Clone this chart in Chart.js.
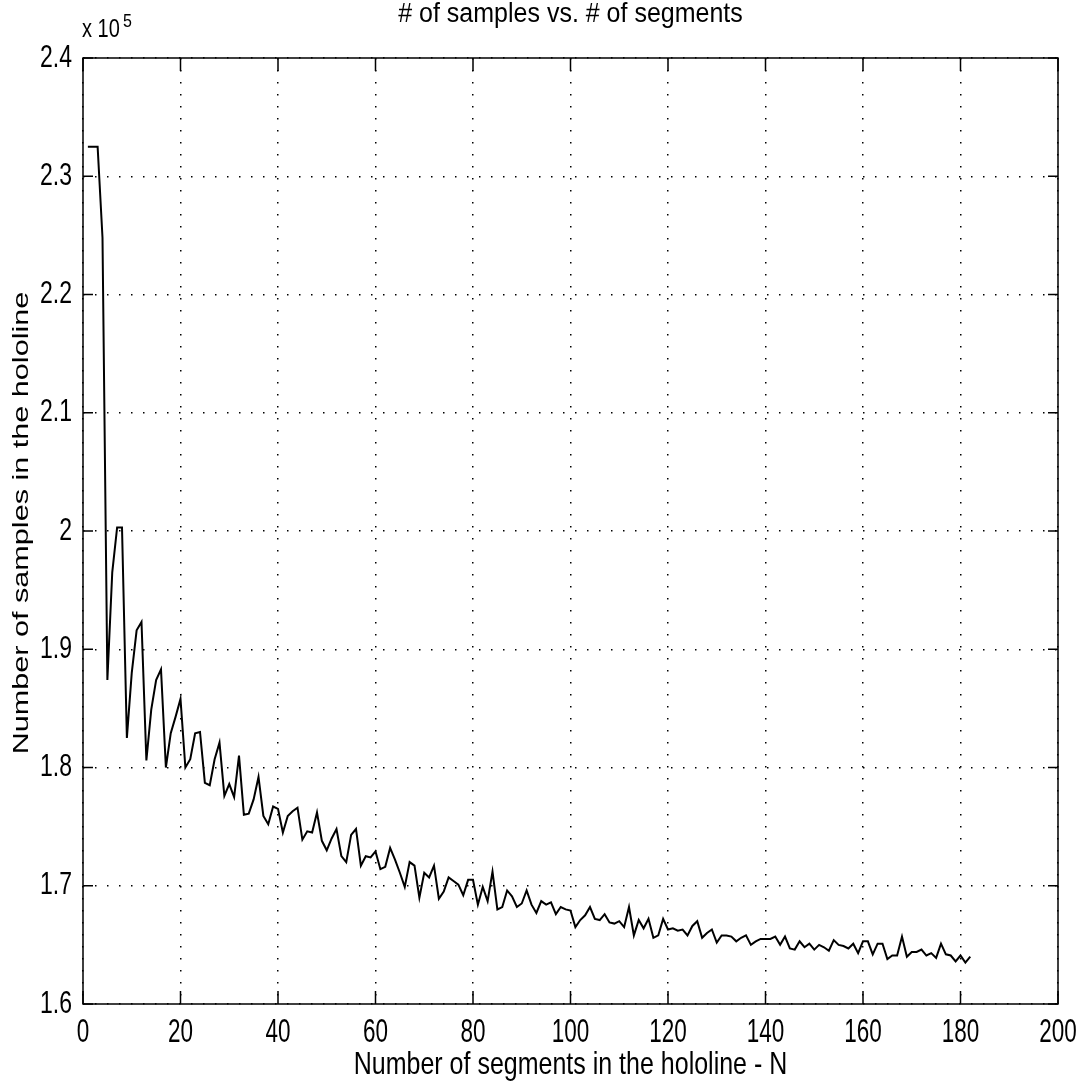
<!DOCTYPE html>
<html>
<head>
<meta charset="utf-8">
<script src="https://cdn.jsdelivr.net/npm/chart.js@4.4.1/dist/chart.umd.min.js"></script>
<style>
  html, body { margin: 0; padding: 0; background: #fff; }
  #wrap { width: 1087px; height: 1084px; position: relative; }
</style>
</head>
<body>
<div id="wrap"><canvas id="chart"></canvas></div>
<script>
// number of segments N (x axis)
const segments = [
  1, 2, 3, 4, 5, 6, 7, 8, 9, 10, 11, 12, 13, 14, 15, 16, 17, 18, 19, 20,
  21, 22, 23, 24, 25, 26, 27, 28, 29, 30, 31, 32, 33, 34, 35, 36, 37, 38, 39, 40,
  41, 42, 43, 44, 45, 46, 47, 48, 49, 50, 51, 52, 53, 54, 55, 56, 57, 58, 59, 60,
  61, 62, 63, 64, 65, 66, 67, 68, 69, 70, 71, 72, 73, 74, 75, 76, 77, 78, 79, 80,
  81, 82, 83, 84, 85, 86, 87, 88, 89, 90, 91, 92, 93, 94, 95, 96, 97, 98, 99, 100,
  101, 102, 103, 104, 105, 106, 107, 108, 109, 110, 111, 112, 113, 114, 115, 116, 117, 118, 119, 120,
  121, 122, 123, 124, 125, 126, 127, 128, 129, 130, 131, 132, 133, 134, 135, 136, 137, 138, 139, 140,
  141, 142, 143, 144, 145, 146, 147, 148, 149, 150, 151, 152, 153, 154, 155, 156, 157, 158, 159, 160,
  161, 162, 163, 164, 165, 166, 167, 168, 169, 170, 171, 172, 173, 174, 175, 176, 177, 178, 179, 180,
  181, 182
];

// number of samples in the hololine, in units of 10^5
const samples = [
  2.325, 2.325, 2.325, 2.248, 1.874, 1.965, 2.003, 2.003, 1.825, 1.880,
  1.916, 1.923, 1.806, 1.849, 1.874, 1.883, 1.800, 1.829, 1.843, 1.858,
  1.800, 1.807, 1.829, 1.830, 1.787, 1.785, 1.807, 1.821, 1.776, 1.786,
  1.775, 1.810, 1.760, 1.761, 1.773, 1.792, 1.759, 1.752, 1.767, 1.765,
  1.745, 1.759, 1.763, 1.766, 1.739, 1.746, 1.745, 1.762, 1.738, 1.730,
  1.740, 1.748, 1.725, 1.720, 1.743, 1.748, 1.717, 1.725, 1.724, 1.729,
  1.714, 1.716, 1.732, 1.722, 1.711, 1.699, 1.720, 1.717, 1.690, 1.711,
  1.707, 1.717, 1.689, 1.695, 1.707, 1.704, 1.701, 1.692, 1.705, 1.705,
  1.684, 1.699, 1.687, 1.712, 1.680, 1.682, 1.696, 1.691, 1.682, 1.685,
  1.696, 1.684, 1.677, 1.687, 1.684, 1.686, 1.676, 1.682, 1.680, 1.679,
  1.665, 1.671, 1.675, 1.682, 1.672, 1.671, 1.676, 1.669, 1.668, 1.670,
  1.665, 1.682, 1.658, 1.671, 1.664, 1.672, 1.656, 1.658, 1.672, 1.663,
  1.664, 1.662, 1.663, 1.658, 1.666, 1.670, 1.656, 1.660, 1.663, 1.652,
  1.658, 1.658, 1.657, 1.653, 1.656, 1.658, 1.650, 1.653, 1.655, 1.655,
  1.655, 1.657, 1.650, 1.657, 1.647, 1.646, 1.653, 1.648, 1.651, 1.646,
  1.650, 1.648, 1.645, 1.654, 1.650, 1.649, 1.647, 1.651, 1.643, 1.653,
  1.653, 1.642, 1.651, 1.651, 1.638, 1.641, 1.641, 1.657, 1.640, 1.644,
  1.644, 1.646, 1.641, 1.643, 1.639, 1.651, 1.642, 1.641, 1.636, 1.641,
  1.635, 1.640
];

const xTicks = [0, 20, 40, 60, 80, 100, 120, 140, 160, 180, 200];
const xTickLabels = ["0", "20", "40", "60", "80", "100", "120", "140", "160", "180", "200"];
const yTicks = [1.6, 1.7, 1.8, 1.9, 2.0, 2.1, 2.2, 2.3, 2.4];
const yTickLabels = ["1.6", "1.7", "1.8", "1.9", "2", "2.1", "2.2", "2.3", "2.4"];

const titleText = "# of samples vs. # of segments";
const xTitle = "Number of segments in the hololine - N";
const yTitle = "Number of samples in the hololine";

const FONT = "'Liberation Sans', Arial, Helvetica, sans-serif";

// text squeezed/stretched like the scanned figure
function drawText(ctx, text, x, y, size, sx, sy, align, baseline, angle) {
  ctx.save();
  ctx.translate(x, y);
  if (angle) ctx.rotate(angle);
  ctx.scale(sx, sy);
  ctx.font = size + "px " + FONT;
  ctx.textAlign = align;
  ctx.textBaseline = baseline;
  ctx.fillStyle = "#000";
  ctx.fillText(text, 0, 0);
  ctx.restore();
}

const matlabFrame = {
  id: "matlabFrame",
  afterDraw(chart) {
    const { ctx, chartArea: a, scales: { x, y } } = chart;
    ctx.save();
    ctx.strokeStyle = "#000";
    ctx.lineWidth = 1.5;
    ctx.strokeRect(a.left, a.top, a.right - a.left, a.bottom - a.top);

    // inward tick marks on all four sides
    ctx.beginPath();
    x.ticks.forEach(t => {
      const px = x.getPixelForValue(t.value);
      ctx.moveTo(px, a.bottom); ctx.lineTo(px, a.bottom - 13);
      ctx.moveTo(px, a.top); ctx.lineTo(px, a.top + 13);
    });
    y.ticks.forEach(t => {
      const py = y.getPixelForValue(t.value);
      ctx.moveTo(a.left, py); ctx.lineTo(a.left + 10, py);
      ctx.moveTo(a.right, py); ctx.lineTo(a.right - 10, py);
    });
    ctx.stroke();

    // tick labels
    x.ticks.forEach(t => {
      const label = t.label != null ? t.label : String(t.value);
      drawText(ctx, label, x.getPixelForValue(t.value), a.bottom + 38, 22.5, 1, 1.45, "center", "alphabetic");
    });
    y.ticks.forEach(t => {
      const label = t.label != null ? t.label : String(t.value);
      drawText(ctx, label, a.left - 11, y.getPixelForValue(t.value), 23, 1, 1.35, "right", "middle");
    });

    // exponent
    drawText(ctx, "x 10", 82, 37, 20, 1, 1.25, "left", "alphabetic");
    drawText(ctx, "5", 123, 27, 16, 1, 1.2, "left", "alphabetic");

    // titles
    drawText(ctx, titleText, (a.left + a.right) / 2, 22, 25, 1, 1.1, "center", "alphabetic");
    drawText(ctx, xTitle, (a.left + a.right) / 2, 1074, 25, 1, 1.25, "center", "alphabetic");
    drawText(ctx, yTitle, 28, 523, 22.5, 1.36, 1, "center", "alphabetic", -Math.PI / 2);
    ctx.restore();
  }
};

const gridOpts = { color: "#000", lineWidth: 1.5, drawTicks: false };
const borderOpts = { display: false, dash: [1.5, 10.5] };

new Chart(document.getElementById("chart"), {
  type: "line",
  data: {
    datasets: [{
      data: segments.map((n, i) => ({ x: n, y: samples[i] })),
      borderColor: "#000",
      borderWidth: 2,
      pointRadius: 0,
      tension: 0,
      fill: false
    }]
  },
  options: {
    responsive: true,
    maintainAspectRatio: false,
    animation: false,
    layout: { padding: { left: 83, right: 29, top: 58, bottom: 80 } },
    plugins: {
      legend: { display: false },
      tooltip: { enabled: false },
      title: { display: false }
    },
    scales: {
      x: {
        type: "linear",
        min: 0,
        max: 200,
        afterBuildTicks: s => { s.ticks = xTicks.map(v => ({ value: v })); },
        afterFit: s => { s.height = 0; },
        ticks: { display: false, callback: v => xTickLabels[xTicks.indexOf(v)] },
        grid: gridOpts,
        border: borderOpts
      },
      y: {
        type: "linear",
        min: 1.6,
        max: 2.4,
        afterBuildTicks: s => { s.ticks = yTicks.map(v => ({ value: v })); },
        afterFit: s => { s.width = 0; },
        ticks: { display: false, callback: v => yTickLabels[yTicks.indexOf(v)] },
        grid: gridOpts,
        border: borderOpts
      }
    }
  },
  plugins: [matlabFrame]
});
</script>
</body>
</html>
